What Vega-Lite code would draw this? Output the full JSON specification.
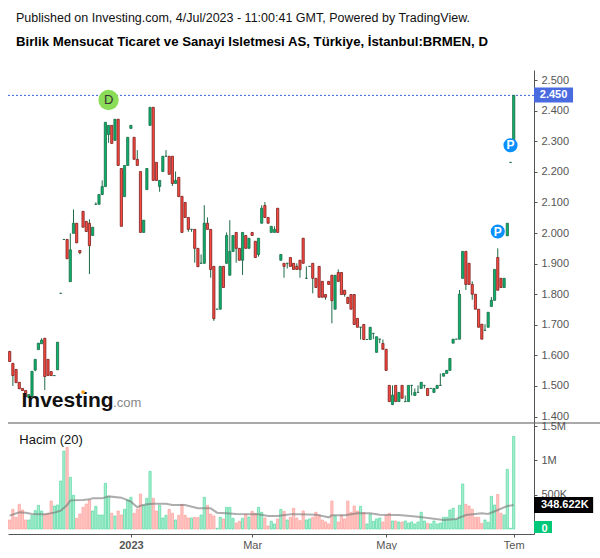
{"$schema":"https://vega.github.io/schema/vega-lite/v6.json","padding":{"left":5,"top":12,"right":0,"bottom":0},"background":"white","spacing":0,"bounds":"flush",
"title":{"text":"Published on Investing.com, 4/Jul/2023 - 11:00:41 GMT, Powered by TradingView.","subtitle":"Birlik Mensucat Ticaret ve Sanayi Isletmesi AS, Türkiye, İstanbul:BRMEN, D","anchor":"start","frame":"group","dx":8,"offset":22,"font":"Liberation Sans","fontSize":12.5,"fontWeight":"normal","color":"#111","subtitleFont":"Liberation Sans","subtitleFontSize":13.2,"subtitleFontWeight":"bold","subtitleColor":"#000","subtitlePadding":11},
"config":{"view":{"stroke":null},"axis":{"labelFont":"Liberation Sans","labelFontSize":11,"labelColor":"#555","domainColor":"#555","tickColor":"#555","grid":false,"title":null,"tickSize":3,"labelPadding":4}},
"datasets":{"bars":[
{"i":0,"d":"dn","o":1.613,"h":1.613,"l":1.58,"c":1.58,"v":131000},{"i":1,"d":"dn","o":1.574,"h":1.574,"l":1.5,"c":1.534,"v":286000},{"i":2,"d":"dn","o":1.554,"h":1.554,"l":1.511,"c":1.511,"v":170000},{"i":3,"d":"dn","o":1.512,"h":1.512,"l":1.491,"c":1.491,"v":359000},{"i":4,"d":"dn","o":1.492,"h":1.492,"l":1.485,"c":1.485,"v":276000},{"i":5,"d":"dn","o":1.485,"h":1.485,"l":1.465,"c":1.465,"v":131000},{"i":6,"d":"up","o":1.462,"h":1.472,"l":1.462,"c":1.472,"v":131000},{"i":7,"d":"up","o":1.465,"h":1.548,"l":1.465,"c":1.548,"v":194000},{"i":8,"d":"up","o":1.552,"h":1.587,"l":1.548,"c":1.587,"v":267000},{"i":9,"d":"up","o":1.619,"h":1.64,"l":1.619,"c":1.64,"v":344000},
{"i":10,"d":"up","o":1.638,"h":1.656,"l":1.638,"c":1.65,"v":262000},{"i":11,"d":"dn","o":1.656,"h":1.656,"l":1.487,"c":1.531,"v":213000},{"i":12,"d":"dn","o":1.587,"h":1.587,"l":1.534,"c":1.534,"v":228000},{"i":13,"d":"dn","o":1.547,"h":1.547,"l":1.534,"c":1.534,"v":407000},{"i":14,"d":"up","o":1.534,"h":1.534,"l":1.534,"c":1.534,"v":335000},{"i":15,"d":"up","o":1.553,"h":1.643,"l":1.553,"c":1.643,"v":349000},{"i":16,"d":"up","o":1.803,"h":1.803,"l":1.803,"c":1.803,"v":698000},{"i":17,"d":"up","o":1.979,"h":1.979,"l":1.979,"c":1.979,"v":1135000},{"i":18,"d":"dn","o":1.979,"h":1.979,"l":1.916,"c":1.916,"v":1188000},{"i":19,"d":"up","o":1.841,"h":1.999,"l":1.841,"c":1.945,"v":752000},
{"i":20,"d":"up","o":1.999,"h":2.077,"l":1.999,"c":2.032,"v":490000},{"i":21,"d":"dn","o":2.032,"h":2.032,"l":1.968,"c":1.968,"v":155000},{"i":22,"d":"dn","o":1.943,"h":1.943,"l":1.931,"c":1.936,"v":218000},{"i":23,"d":"dn","o":2.071,"h":2.071,"l":2.019,"c":2.019,"v":315000},{"i":24,"d":"dn","o":2.038,"h":2.038,"l":2.005,"c":2.005,"v":364000},{"i":25,"d":"dn","o":2.032,"h":2.045,"l":1.866,"c":1.959,"v":422000},{"i":26,"d":"up","o":1.992,"h":2.019,"l":1.992,"c":2.019,"v":262000},{"i":27,"d":"up","o":2.094,"h":2.1,"l":2.094,"c":2.094,"v":330000},{"i":28,"d":"up","o":2.094,"h":2.126,"l":2.094,"c":2.126,"v":204000},{"i":29,"d":"up","o":2.126,"h":2.172,"l":2.126,"c":2.152,"v":204000},
{"i":30,"d":"up","o":2.152,"h":2.362,"l":2.152,"c":2.362,"v":664000},{"i":31,"d":"up","o":2.322,"h":2.352,"l":2.295,"c":2.352,"v":470000},{"i":32,"d":"dn","o":2.352,"h":2.352,"l":2.293,"c":2.293,"v":228000},{"i":33,"d":"up","o":2.303,"h":2.372,"l":2.303,"c":2.372,"v":189000},{"i":34,"d":"dn","o":2.372,"h":2.372,"l":2.221,"c":2.221,"v":262000},{"i":35,"d":"dn","o":2.211,"h":2.211,"l":2.022,"c":2.022,"v":204000},{"i":36,"d":"up","o":2.119,"h":2.221,"l":2.119,"c":2.221,"v":286000},{"i":37,"d":"up","o":2.221,"h":2.313,"l":2.221,"c":2.313,"v":422000},{"i":38,"d":"up","o":2.342,"h":2.352,"l":2.342,"c":2.352,"v":461000},{"i":39,"d":"dn","o":2.313,"h":2.313,"l":2.241,"c":2.241,"v":228000},
{"i":40,"d":"dn","o":2.241,"h":2.271,"l":2.221,"c":2.221,"v":286000},{"i":41,"d":"dn","o":2.201,"h":2.201,"l":2.002,"c":2.002,"v":509000},{"i":42,"d":"up","o":2.002,"h":2.042,"l":2.002,"c":2.042,"v":340000},{"i":43,"d":"up","o":2.142,"h":2.211,"l":2.142,"c":2.211,"v":446000},{"i":44,"d":"up","o":2.352,"h":2.411,"l":2.352,"c":2.411,"v":839000},{"i":45,"d":"dn","o":2.411,"h":2.411,"l":2.172,"c":2.172,"v":446000},{"i":46,"d":"dn","o":2.231,"h":2.231,"l":2.172,"c":2.172,"v":262000},{"i":47,"d":"up","o":2.152,"h":2.172,"l":2.135,"c":2.172,"v":344000},{"i":48,"d":"up","o":2.201,"h":2.251,"l":2.201,"c":2.251,"v":160000},{"i":49,"d":"up","o":2.251,"h":2.271,"l":2.251,"c":2.251,"v":199000},
{"i":50,"d":"dn","o":2.251,"h":2.251,"l":2.192,"c":2.192,"v":286000},{"i":51,"d":"dn","o":2.251,"h":2.251,"l":2.154,"c":2.162,"v":228000},{"i":52,"d":"up","o":2.162,"h":2.201,"l":2.162,"c":2.172,"v":131000},{"i":53,"d":"dn","o":2.182,"h":2.182,"l":2.119,"c":2.119,"v":199000},{"i":54,"d":"dn","o":2.12,"h":2.12,"l":2.002,"c":2.002,"v":359000},{"i":55,"d":"dn","o":2.1,"h":2.1,"l":2.051,"c":2.051,"v":199000},{"i":56,"d":"dn","o":2.051,"h":2.051,"l":2.004,"c":2.012,"v":160000},{"i":57,"d":"up","o":2.012,"h":2.012,"l":2.004,"c":2.012,"v":160000},{"i":58,"d":"dn","o":2.012,"h":2.012,"l":1.903,"c":1.95,"v":170000},{"i":59,"d":"dn","o":1.95,"h":1.95,"l":1.89,"c":1.89,"v":165000},
{"i":60,"d":"up","o":1.901,"h":1.93,"l":1.901,"c":1.901,"v":204000},{"i":61,"d":"up","o":1.901,"h":2.091,"l":1.901,"c":2.032,"v":461000},{"i":62,"d":"dn","o":2.032,"h":2.051,"l":2.012,"c":2.012,"v":344000},{"i":63,"d":"dn","o":2.012,"h":2.012,"l":1.854,"c":1.881,"v":218000},{"i":64,"d":"dn","o":1.891,"h":1.891,"l":1.713,"c":1.72,"v":189000},{"i":65,"d":"up","o":1.751,"h":1.751,"l":1.751,"c":1.751,"v":10000},{"i":66,"d":"up","o":1.751,"h":1.891,"l":1.751,"c":1.891,"v":170000},{"i":67,"d":"dn","o":1.891,"h":1.891,"l":1.822,"c":1.822,"v":146000},{"i":68,"d":"up","o":1.901,"h":2.002,"l":1.901,"c":1.992,"v":315000},{"i":69,"d":"up","o":1.862,"h":2.042,"l":1.862,"c":1.94,"v":315000},
{"i":70,"d":"up","o":1.94,"h":1.992,"l":1.94,"c":1.992,"v":155000},{"i":71,"d":"dn","o":2.002,"h":2.002,"l":1.903,"c":1.95,"v":87000},{"i":72,"d":"dn","o":1.95,"h":1.95,"l":1.911,"c":1.911,"v":112000},{"i":73,"d":"up","o":1.911,"h":2.002,"l":1.863,"c":2.002,"v":155000},{"i":74,"d":"dn","o":1.992,"h":1.992,"l":1.95,"c":1.95,"v":213000},{"i":75,"d":"up","o":1.95,"h":1.983,"l":1.95,"c":1.983,"v":175000},{"i":76,"d":"dn","o":2.002,"h":2.002,"l":1.992,"c":1.992,"v":257000},{"i":77,"d":"dn","o":1.973,"h":1.973,"l":1.92,"c":1.92,"v":228000},{"i":78,"d":"up","o":1.93,"h":1.983,"l":1.923,"c":1.983,"v":315000},{"i":79,"d":"up","o":2.032,"h":2.091,"l":2.032,"c":2.081,"v":243000},
{"i":80,"d":"dn","o":2.09,"h":2.101,"l":2.051,"c":2.051,"v":160000},{"i":81,"d":"dn","o":2.051,"h":2.051,"l":2.032,"c":2.032,"v":44000},{"i":82,"d":"up","o":2.002,"h":2.022,"l":2.002,"c":2.022,"v":112000},{"i":83,"d":"up","o":2.002,"h":2.022,"l":2.002,"c":2.012,"v":73000},{"i":84,"d":"dn","o":2.081,"h":2.081,"l":2.002,"c":2.002,"v":146000},{"i":85,"d":"up","o":1.911,"h":1.93,"l":1.911,"c":1.93,"v":286000},{"i":86,"d":"dn","o":1.901,"h":1.901,"l":1.854,"c":1.891,"v":257000},{"i":87,"d":"up","o":1.901,"h":1.901,"l":1.884,"c":1.901,"v":131000},{"i":88,"d":"dn","o":1.92,"h":1.92,"l":1.891,"c":1.891,"v":170000},{"i":89,"d":"dn","o":1.901,"h":1.901,"l":1.881,"c":1.881,"v":301000},
{"i":90,"d":"dn","o":1.891,"h":1.901,"l":1.881,"c":1.881,"v":160000},{"i":91,"d":"dn","o":1.911,"h":1.911,"l":1.854,"c":1.881,"v":121000},{"i":92,"d":"dn","o":1.983,"h":1.983,"l":1.901,"c":1.901,"v":262000},{"i":93,"d":"up","o":1.852,"h":1.891,"l":1.852,"c":1.852,"v":131000},{"i":94,"d":"up","o":1.891,"h":1.891,"l":1.891,"c":1.891,"v":146000},{"i":95,"d":"dn","o":1.901,"h":1.901,"l":1.803,"c":1.852,"v":170000},{"i":96,"d":"dn","o":1.852,"h":1.852,"l":1.822,"c":1.822,"v":243000},{"i":97,"d":"dn","o":1.891,"h":1.891,"l":1.79,"c":1.79,"v":204000},{"i":98,"d":"dn","o":1.842,"h":1.842,"l":1.79,"c":1.79,"v":131000},{"i":99,"d":"dn","o":1.799,"h":1.799,"l":1.782,"c":1.79,"v":102000},
{"i":100,"d":"dn","o":1.842,"h":1.842,"l":1.832,"c":1.832,"v":73000},{"i":101,"d":"dn","o":1.862,"h":1.862,"l":1.705,"c":1.779,"v":407000},{"i":102,"d":"up","o":1.751,"h":1.862,"l":1.751,"c":1.862,"v":189000},{"i":103,"d":"dn","o":1.871,"h":1.881,"l":1.842,"c":1.842,"v":102000},{"i":104,"d":"dn","o":1.871,"h":1.871,"l":1.799,"c":1.799,"v":199000},{"i":105,"d":"dn","o":1.813,"h":1.813,"l":1.792,"c":1.799,"v":146000},{"i":106,"d":"dn","o":1.79,"h":1.79,"l":1.77,"c":1.77,"v":407000},{"i":107,"d":"dn","o":1.799,"h":1.799,"l":1.751,"c":1.751,"v":243000},{"i":108,"d":"dn","o":1.799,"h":1.799,"l":1.701,"c":1.701,"v":335000},{"i":109,"d":"dn","o":1.721,"h":1.721,"l":1.692,"c":1.692,"v":262000},
{"i":110,"d":"up","o":1.692,"h":1.692,"l":1.652,"c":1.692,"v":330000},{"i":111,"d":"dn","o":1.701,"h":1.701,"l":1.652,"c":1.652,"v":238000},{"i":112,"d":"up","o":1.652,"h":1.652,"l":1.652,"c":1.652,"v":73000},{"i":113,"d":"up","o":1.652,"h":1.692,"l":1.652,"c":1.692,"v":213000},{"i":114,"d":"up","o":1.672,"h":1.672,"l":1.653,"c":1.672,"v":112000},{"i":115,"d":"up","o":1.61,"h":1.661,"l":1.61,"c":1.661,"v":146000},{"i":116,"d":"up","o":1.653,"h":1.653,"l":1.64,"c":1.653,"v":160000},{"i":117,"d":"dn","o":1.639,"h":1.652,"l":1.62,"c":1.62,"v":102000},{"i":118,"d":"dn","o":1.62,"h":1.62,"l":1.551,"c":1.551,"v":199000},{"i":119,"d":"dn","o":1.502,"h":1.502,"l":1.449,"c":1.449,"v":228000},
{"i":120,"d":"up","o":1.439,"h":1.502,"l":1.439,"c":1.47,"v":116000},{"i":121,"d":"dn","o":1.502,"h":1.502,"l":1.449,"c":1.449,"v":116000},{"i":122,"d":"up","o":1.449,"h":1.479,"l":1.449,"c":1.479,"v":102000},{"i":123,"d":"dn","o":1.502,"h":1.502,"l":1.46,"c":1.46,"v":102000},{"i":124,"d":"up","o":1.449,"h":1.469,"l":1.449,"c":1.449,"v":116000},{"i":125,"d":"up","o":1.449,"h":1.502,"l":1.449,"c":1.502,"v":87000},{"i":126,"d":"up","o":1.502,"h":1.502,"l":1.469,"c":1.502,"v":102000},{"i":127,"d":"up","o":1.469,"h":1.492,"l":1.469,"c":1.479,"v":73000},{"i":128,"d":"up","o":1.479,"h":1.502,"l":1.479,"c":1.479,"v":102000},{"i":129,"d":"up","o":1.492,"h":1.512,"l":1.492,"c":1.512,"v":243000},
{"i":130,"d":"up","o":1.502,"h":1.502,"l":1.492,"c":1.502,"v":116000},{"i":131,"d":"dn","o":1.492,"h":1.492,"l":1.469,"c":1.469,"v":82000},{"i":132,"d":"up","o":1.492,"h":1.492,"l":1.492,"c":1.492,"v":73000},{"i":133,"d":"up","o":1.479,"h":1.492,"l":1.479,"c":1.492,"v":116000},{"i":134,"d":"up","o":1.492,"h":1.502,"l":1.492,"c":1.502,"v":73000},{"i":135,"d":"up","o":1.502,"h":1.541,"l":1.502,"c":1.502,"v":87000},{"i":136,"d":"up","o":1.532,"h":1.541,"l":1.532,"c":1.541,"v":170000},{"i":137,"d":"up","o":1.541,"h":1.551,"l":1.541,"c":1.551,"v":170000},{"i":138,"d":"up","o":1.551,"h":1.59,"l":1.551,"c":1.59,"v":276000},{"i":139,"d":"up","o":1.64,"h":1.653,"l":1.64,"c":1.653,"v":301000},
{"i":140,"d":"up","o":1.653,"h":1.653,"l":1.653,"c":1.653,"v":141000},{"i":141,"d":"up","o":1.653,"h":1.814,"l":1.653,"c":1.8,"v":344000},{"i":142,"d":"up","o":1.852,"h":1.94,"l":1.852,"c":1.94,"v":655000},{"i":143,"d":"dn","o":1.94,"h":1.94,"l":1.814,"c":1.832,"v":359000},{"i":144,"d":"dn","o":1.901,"h":1.901,"l":1.832,"c":1.832,"v":335000},{"i":145,"d":"dn","o":1.832,"h":1.842,"l":1.782,"c":1.8,"v":286000},{"i":146,"d":"dn","o":1.8,"h":1.8,"l":1.751,"c":1.751,"v":170000},{"i":147,"d":"dn","o":1.751,"h":1.751,"l":1.692,"c":1.692,"v":170000},{"i":148,"d":"dn","o":1.702,"h":1.702,"l":1.653,"c":1.653,"v":82000},{"i":149,"d":"up","o":1.682,"h":1.702,"l":1.682,"c":1.682,"v":131000},
{"i":150,"d":"up","o":1.692,"h":1.741,"l":1.692,"c":1.741,"v":97000},{"i":151,"d":"up","o":1.76,"h":1.791,"l":1.76,"c":1.78,"v":475000},{"i":152,"d":"up","o":1.78,"h":1.881,"l":1.78,"c":1.881,"v":349000},{"i":153,"d":"dn","o":1.92,"h":1.95,"l":1.813,"c":1.813,"v":504000},{"i":154,"d":"dn","o":1.852,"h":1.852,"l":1.822,"c":1.822,"v":228000},{"i":155,"d":"up","o":1.822,"h":1.852,"l":1.822,"c":1.852,"v":204000},{"i":156,"d":"up","o":1.991,"h":2.032,"l":1.991,"c":2.032,"v":868000},{"i":157,"d":"up","o":2.231,"h":2.231,"l":2.231,"c":2.231,"v":10000},{"i":158,"d":"up","o":2.28,"h":2.45,"l":2.28,"c":2.45,"v":1348000}],
"ma":[{"i":0,"m":194000},{"i":3,"m":243000},{"i":5,"m":238000},{"i":7,"m":218000},{"i":11,"m":213000},{"i":14,"m":238000},{"i":16,"m":267000},{"i":18,"m":349000},{"i":19,"m":417000},{"i":23,"m":422000},{"i":25,"m":432000},{"i":26,"m":446000},{"i":29,"m":446000},{"i":31,"m":475000},{"i":35,"m":456000},{"i":38,"m":398000},{"i":40,"m":315000},{"i":41,"m":340000},{"i":43,"m":359000},{"i":45,"m":369000},{"i":49,"m":369000},{"i":51,"m":349000},{"i":55,"m":349000},{"i":59,"m":301000},{"i":63,"m":301000},{"i":65,"m":238000},{"i":68,"m":228000},{"i":71,"m":218000},{"i":78,"m":213000},{"i":81,"m":189000},{"i":84,"m":189000},{"i":88,"m":213000},{"i":91,"m":213000},{"i":96,"m":209000},{"i":100,"m":170000},{"i":101,"m":199000},{"i":105,"m":199000},{"i":109,"m":228000},{"i":113,"m":228000},{"i":116,"m":209000},{"i":122,"m":204000},{"i":128,"m":179000},{"i":136,"m":131000},{"i":140,"m":146000},{"i":143,"m":204000},{"i":148,"m":228000},{"i":150,"m":218000},{"i":153,"m":276000},{"i":156,"m":335000},{"i":158,"m":348622}],
"notes":[{"i":31,"p":2.435,"t":"D","k":"d"},{"i":153,"p":2.005,"t":"P","k":"p"},{"i":157,"p":2.287,"t":"P","k":"p"}]},
"vconcat":[
{"width":526,"height":353,"encoding":{"x":{"field":"i","type":"quantitative","scale":{"domain":[-0.53,164.36],"nice":false,"zero":false,"padding":0},"axis":null},"y":{"type":"quantitative","scale":{"domain":[1.379,2.533],"nice":false,"zero":false},"axis":{"orient":"right","values":[1.4,1.5,1.6,1.7,1.8,1.9,2.0,2.1,2.2,2.3,2.4,2.5],"format":".3f","labelOverlap":false}}},"layer":[
{"data":{"name":"bars"},"mark":{"type":"rule","strokeWidth":1,"color":"#1d6b48"},"encoding":{"y":{"field":"l"},"y2":{"field":"h"}}},
{"data":{"values":[{"p":2.45,"i":-0.53,"i2":164.36}]},"mark":{"type":"rule","strokeDash":[2,2],"strokeWidth":1,"color":"#3f5fd8"},"encoding":{"x2":{"field":"i2"},"y":{"field":"p"}}},
{"data":{"values":[{"p":1.379,"i":-0.53,"i2":187}]},"mark":{"type":"rule","strokeWidth":1,"color":"#555"},"encoding":{"x2":{"field":"i2"},"y":{"field":"p"}}},
{"data":{"name":"bars"},"mark":{"type":"bar","orient":"vertical","width":2.2,"strokeWidth":0.8},"encoding":{"y":{"field":"o","stack":null},"y2":{"field":"c"},"fill":{"field":"d","type":"nominal","legend":null,"scale":{"domain":["up","dn"],"range":["#0ab36a","#ff4a40"]}},"stroke":{"field":"d","type":"nominal","legend":null,"scale":{"domain":["up","dn"],"range":["#1d6b48","#7a1f1f"]}}}},
{"data":{"name":"notes"},"transform":[{"filter":"datum.k=='d'"}],"mark":{"type":"point","filled":true,"size":415,"color":"#8bdc57","opacity":1},"encoding":{"y":{"field":"p"}}},
{"data":{"name":"notes"},"transform":[{"filter":"datum.k=='p'"}],"mark":{"type":"point","filled":true,"size":200,"color":"#0a8fff","opacity":1},"encoding":{"y":{"field":"p"}}},
{"data":{"name":"notes"},"transform":[{"filter":"datum.k=='d'"}],"mark":{"type":"text","font":"Liberation Sans","fontSize":13,"color":"#333"},"encoding":{"y":{"field":"p"},"text":{"field":"t"}}},
{"data":{"name":"notes"},"transform":[{"filter":"datum.k=='p'"}],"mark":{"type":"text","font":"Liberation Sans","fontSize":12,"fontWeight":"bold","color":"white"},"encoding":{"y":{"field":"p"},"text":{"field":"t"}}},
{"data":{"values":[{"t":"Investing","i":3.7,"p":1.432}]},"mark":{"type":"text","align":"left","baseline":"alphabetic","font":"Liberation Sans","fontWeight":"bold","fontSize":21,"color":"#111"},"encoding":{"y":{"field":"p"},"text":{"field":"t"}}},
{"data":{"values":[{"t":".com","i":32.4,"p":1.432}]},"mark":{"type":"text","align":"left","baseline":"alphabetic","font":"Liberation Sans","fontSize":13,"color":"#888"},"encoding":{"y":{"field":"p"},"text":{"field":"t"}}},
{"data":{"values":[{"i":23,"p":1.48}]},"mark":{"type":"point","filled":true,"size":14,"color":"#f9a61a","opacity":1},"encoding":{"y":{"field":"p"}}},
{"data":{"values":[{"i":164.36,"i2":176.6,"t1":2.476,"t2":2.427}]},"mark":{"type":"rect","color":"#4a6ae0"},"encoding":{"x2":{"field":"i2"},"y":{"field":"t1"},"y2":{"field":"t2"}}},
{"data":{"values":[{"t":"2.450","p":2.45,"i":170.5}]},"mark":{"type":"text","align":"center","font":"Liberation Sans","fontSize":11,"fontWeight":"bold","color":"white"},"encoding":{"y":{"field":"p"},"text":{"field":"t"}}}
],"resolve":{"scale":{"fill":"independent","stroke":"independent"}}},
{"width":526,"height":111,"encoding":{"x":{"field":"i","type":"quantitative","scale":{"domain":[-0.53,164.36],"nice":false,"zero":false,"padding":0},"axis":{"values":[38,76,118,158],"labelExpr":"datum.value==38?'2023':datum.value==76?'Mar':datum.value==118?'May':'Tem'","labelFontWeight":{"condition":{"test":"datum.value==38","value":"bold"},"value":"normal"},"labelPadding":2,"labelOverlap":false}},"y":{"type":"quantitative","scale":{"domain":[-73000,1544000],"nice":false,"zero":false},"axis":{"orient":"right","values":[0,500000,1000000,1500000],"labelOverlap":false,"labelExpr":"datum.value==0?'':replace(format(datum.value,'~s'),'k','K')"}}},"layer":[
{"data":{"name":"bars"},"mark":{"type":"bar","orient":"vertical","width":2.2,"strokeWidth":0.8,"fillOpacity":0.75},"encoding":{"y":{"field":"v","stack":null},"fill":{"field":"d","type":"nominal","legend":null,"scale":{"domain":["up","dn"],"range":["#8fe8c0","#ffb5b2"]}},"stroke":{"field":"d","type":"nominal","legend":null,"scale":{"domain":["up","dn"],"range":["#5fdca8","#ffa3a0"]}}}},
{"data":{"name":"ma"},"mark":{"type":"line","color":"#777","strokeWidth":2,"opacity":0.6},"encoding":{"y":{"field":"m"}}},
{"data":{"values":[{"t":"Hacim (20)","i":3,"v":1300000}]},"mark":{"type":"text","align":"left","font":"Liberation Sans","fontSize":13,"color":"#111"},"encoding":{"y":{"field":"v"},"text":{"field":"t"}}},
{"data":{"values":[{"i":164.36,"i2":182.9,"t1":466000,"t2":233000}]},"mark":{"type":"rect","color":"#000"},"encoding":{"x2":{"field":"i2"},"y":{"field":"t1"},"y2":{"field":"t2"}}},
{"data":{"values":[{"t":"348.622K","v":348622,"i":174}]},"mark":{"type":"text","align":"center","font":"Liberation Sans","fontSize":11,"fontWeight":"bold","color":"white"},"encoding":{"y":{"field":"v"},"text":{"field":"t"}}},
{"data":{"values":[{"i":164.36,"i2":170,"t1":116000,"t2":-58000}]},"mark":{"type":"rect","color":"#00c878"},"encoding":{"x2":{"field":"i2"},"y":{"field":"t1"},"y2":{"field":"t2"}}},
{"data":{"values":[{"t":"0","v":0,"i":167.7}]},"mark":{"type":"text","align":"center","font":"Liberation Sans","fontSize":11,"fontWeight":"bold","color":"white"},"encoding":{"y":{"field":"v"},"text":{"field":"t"}}}
],"resolve":{"scale":{"fill":"independent","stroke":"independent"}}}
]}
